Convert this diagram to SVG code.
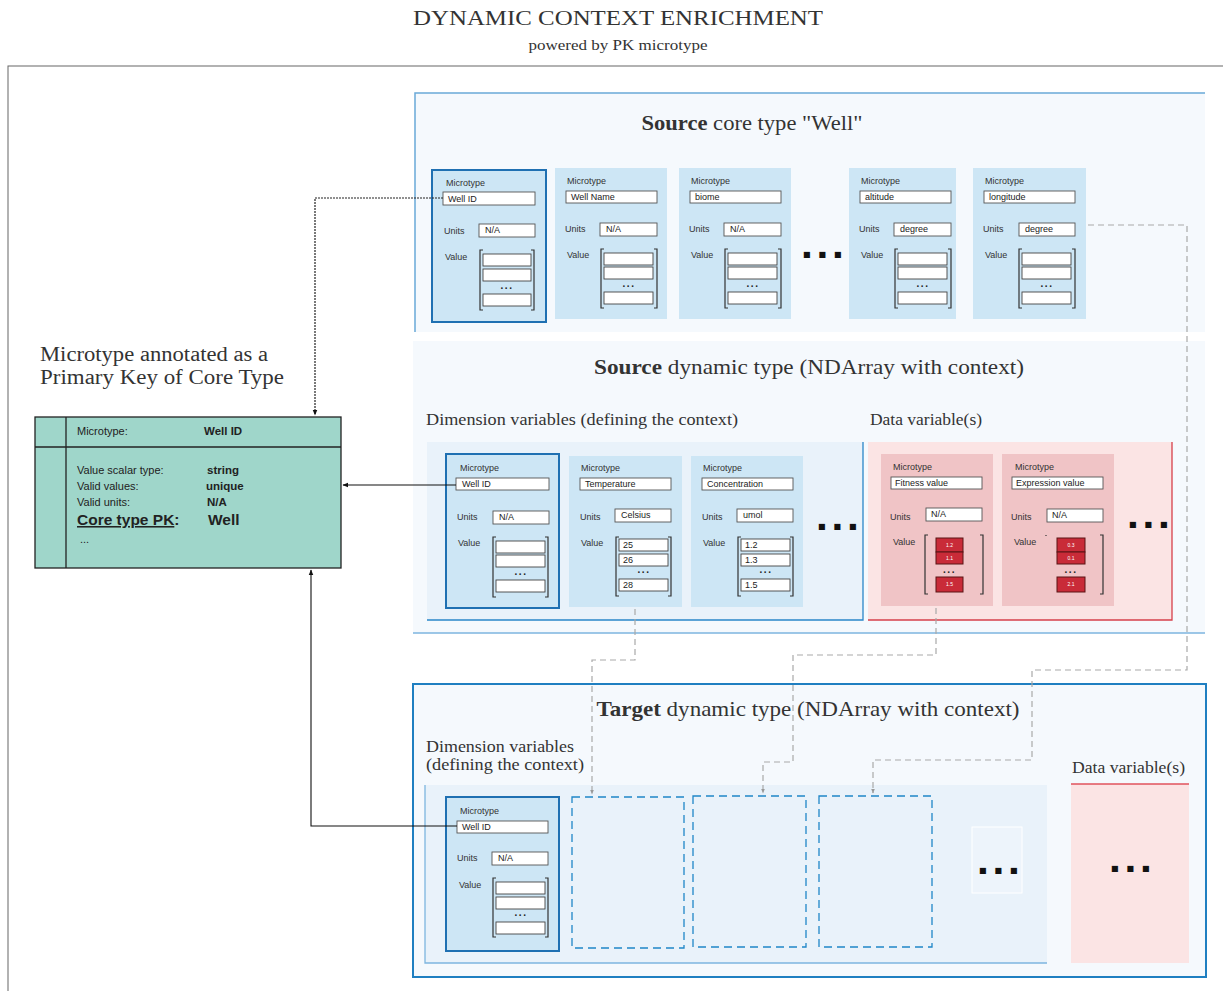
<svg xmlns="http://www.w3.org/2000/svg" width="1223" height="991" viewBox="0 0 1223 991">
<defs>
<style>
.serif{font-family:"Liberation Serif","DejaVu Serif",serif;fill:#333}
.sans{font-family:"Liberation Sans",Arial,sans-serif;fill:#222}
.lbl{font-family:"Liberation Sans",Arial,sans-serif;font-size:9px;fill:#333}
.val{font-family:"Liberation Sans",Arial,sans-serif;font-size:9px;fill:#222}
.card{fill:#cde6f5}
.hl{stroke:#1f70b2;stroke-width:2}
.rcard{fill:#f0c4c6}
.box{fill:#fff;stroke:#555;stroke-width:0.9}
.cell{fill:#fff;stroke:#444;stroke-width:0.9}
.rcell{fill:#c92b38;stroke:#5a1515;stroke-width:1}
.brk{fill:none;stroke:#333;stroke-width:1.2}
.dots{font-family:"DejaVu Sans",sans-serif;font-size:8px;fill:#111;letter-spacing:8px}
.sdots{font-family:"Liberation Sans",Arial,sans-serif;font-size:10px;font-weight:bold;fill:#222;letter-spacing:1.5px}
.tiny{font-family:"Liberation Sans",Arial,sans-serif;font-size:5px;fill:#fff}
.dash{fill:none;stroke:#a9a9a9;stroke-width:1.2;stroke-dasharray:6 4}
.ddash{fill:none;stroke:#1f86c8;stroke-width:1.3;stroke-dasharray:8 5}
</style>
<marker id="ah" viewBox="0 0 10 10" refX="9" refY="5" markerWidth="6" markerHeight="6" orient="auto" markerUnits="userSpaceOnUse"><path d="M0,1 L10,5 L0,9 z" fill="#111"/></marker>
<marker id="ahg" viewBox="0 0 10 10" refX="9" refY="5" markerWidth="5" markerHeight="5" orient="auto" markerUnits="userSpaceOnUse"><path d="M0,1 L10,5 L0,9 z" fill="#999"/></marker>
</defs>
<rect width="1223" height="991" fill="#fff"/>

<g id="title">
<text class="serif" x="618" y="25" font-size="22" text-anchor="middle" textLength="410" lengthAdjust="spacingAndGlyphs">DYNAMIC CONTEXT ENRICHMENT</text>
<text class="serif" x="618" y="50" font-size="14" text-anchor="middle" textLength="179" lengthAdjust="spacingAndGlyphs">powered by PK microtype</text>
</g>

<rect id="frame" x="8" y="66" width="1230" height="940" fill="none" stroke="#666" stroke-width="1"/>

<!-- Source core type panel -->
<g id="source-core">
<rect x="415" y="93" width="790" height="239" fill="#f5f9fd"/>
<path d="M415,332 V93 H1205" fill="none" stroke="#6aa9d8" stroke-width="1.5"/>
<text class="serif" x="752" y="130" font-size="21" text-anchor="middle" textLength="221" lengthAdjust="spacingAndGlyphs"><tspan font-weight="bold">Source</tspan> core type "Well"</text>
</g>

<g id="core-wellid" transform="translate(432,170)">
<rect class="card hl" x="0" y="0" width="114" height="152"/>
<text class="lbl" x="14" y="16">Microtype</text>
<rect class="box" x="11" y="22" width="92" height="13"/><text class="val" x="16" y="32">Well ID</text>
<text class="lbl" x="12" y="64">Units</text>
<rect class="box" x="47" y="54" width="56" height="13"/><text class="val" x="53" y="63">N/A</text>
<text class="lbl" x="13" y="90">Value</text>
<path class="brk" d="M51,80 h-3 v60 h3 M99,80 h3 v60 h-3"/>
<rect class="cell" x="51" y="84" width="48" height="12"/><rect class="cell" x="51" y="99" width="48" height="12"/>
<text class="sdots" x="75" y="119" text-anchor="middle">...</text>
<rect class="cell" x="51" y="124" width="48" height="12"/>
</g>

<g id="core-wellname" transform="translate(555,168)">
<rect class="card" x="0" y="0" width="112" height="151"/>
<text class="lbl" x="12" y="16">Microtype</text>
<rect class="box" x="11" y="23" width="91" height="12"/><text class="val" x="16" y="32">Well Name</text>
<text class="lbl" x="10" y="64">Units</text>
<rect class="box" x="45" y="55" width="57" height="13"/><text class="val" x="51" y="64">N/A</text>
<text class="lbl" x="12" y="90">Value</text>
<path class="brk" d="M49,81 h-3 v59 h3 M99,81 h3 v59 h-3"/>
<rect class="cell" x="49" y="85" width="49" height="12"/><rect class="cell" x="49" y="99" width="49" height="12"/>
<text class="sdots" x="74" y="119" text-anchor="middle">...</text>
<rect class="cell" x="49" y="124" width="49" height="12"/>
</g>

<g id="core-biome" transform="translate(679,168)">
<rect class="card" x="0" y="0" width="112" height="151"/>
<text class="lbl" x="12" y="16">Microtype</text>
<rect class="box" x="11" y="23" width="91" height="12"/><text class="val" x="16" y="32">biome</text>
<text class="lbl" x="10" y="64">Units</text>
<rect class="box" x="45" y="55" width="57" height="13"/><text class="val" x="51" y="64">N/A</text>
<text class="lbl" x="12" y="90">Value</text>
<path class="brk" d="M49,81 h-3 v59 h3 M99,81 h3 v59 h-3"/>
<rect class="cell" x="49" y="85" width="49" height="12"/><rect class="cell" x="49" y="99" width="49" height="12"/>
<text class="sdots" x="74" y="119" text-anchor="middle">...</text>
<rect class="cell" x="49" y="124" width="49" height="12"/>
</g>

<text id="core-ellipsis" class="dots" x="803" y="257">■■■</text>

<g id="core-altitude" transform="translate(849,168)">
<rect class="card" x="0" y="0" width="107" height="151"/>
<text class="lbl" x="12" y="16">Microtype</text>
<rect class="box" x="11" y="23" width="91" height="12"/><text class="val" x="16" y="32">altitude</text>
<text class="lbl" x="10" y="64">Units</text>
<rect class="box" x="45" y="55" width="57" height="13"/><text class="val" x="51" y="64">degree</text>
<text class="lbl" x="12" y="90">Value</text>
<path class="brk" d="M49,81 h-3 v59 h3 M99,81 h3 v59 h-3"/>
<rect class="cell" x="49" y="85" width="49" height="12"/><rect class="cell" x="49" y="99" width="49" height="12"/>
<text class="sdots" x="74" y="119" text-anchor="middle">...</text>
<rect class="cell" x="49" y="124" width="49" height="12"/>
</g>

<g id="core-longitude" transform="translate(973,168)">
<rect class="card" x="0" y="0" width="113" height="151"/>
<text class="lbl" x="12" y="16">Microtype</text>
<rect class="box" x="11" y="23" width="91" height="12"/><text class="val" x="16" y="32">longitude</text>
<text class="lbl" x="10" y="64">Units</text>
<rect class="box" x="46" y="55" width="56" height="13"/><text class="val" x="52" y="64">degree</text>
<text class="lbl" x="12" y="90">Value</text>
<path class="brk" d="M49,81 h-3 v59 h3 M99,81 h3 v59 h-3"/>
<rect class="cell" x="49" y="85" width="49" height="12"/><rect class="cell" x="49" y="99" width="49" height="12"/>
<text class="sdots" x="74" y="119" text-anchor="middle">...</text>
<rect class="cell" x="49" y="124" width="49" height="12"/>
</g>

<!-- Source dynamic type panel -->
<g id="source-dynamic">
<rect x="413" y="341" width="792" height="292" fill="#f5f9fd"/>
<line x1="413" y1="633" x2="1205" y2="633" stroke="#7db5df" stroke-width="1.5"/>
<text class="serif" x="809" y="374" font-size="21" text-anchor="middle" textLength="430" lengthAdjust="spacingAndGlyphs"><tspan font-weight="bold">Source</tspan> dynamic type (NDArray with context)</text>
<text class="serif" x="426" y="425" font-size="16" textLength="312" lengthAdjust="spacingAndGlyphs">Dimension variables (defining the context)</text>
<text class="serif" x="870" y="425" font-size="16" textLength="112" lengthAdjust="spacingAndGlyphs">Data variable(s)</text>
<rect x="427" y="442" width="436" height="178" fill="#e9f2fa"/>
<path d="M863,442 V620 H427" fill="none" stroke="#2a86c9" stroke-width="1.3"/>
<rect x="868" y="442" width="304" height="178" fill="#fbe4e4"/>
<path d="M1172,442 V620 H868" fill="none" stroke="#d6404b" stroke-width="1.3"/>
</g>

<g id="dyn-wellid" transform="translate(446,454)">
<rect class="card hl" x="0" y="0" width="113" height="154"/>
<text class="lbl" x="14" y="17">Microtype</text>
<rect class="box" x="10" y="24" width="93" height="12"/><text class="val" x="16" y="33">Well ID</text>
<text class="lbl" x="11" y="66">Units</text>
<rect class="box" x="47" y="57" width="56" height="13"/><text class="val" x="53" y="66">N/A</text>
<text class="lbl" x="12" y="92">Value</text>
<path class="brk" d="M50,83 h-3 v60 h3 M99,83 h3 v60 h-3"/>
<rect class="cell" x="50" y="87" width="49" height="12"/><rect class="cell" x="50" y="101" width="49" height="12"/>
<text class="sdots" x="75" y="121" text-anchor="middle">...</text>
<rect class="cell" x="50" y="126" width="49" height="12"/>
</g>

<g id="dyn-temperature" transform="translate(569,456)">
<rect class="card" x="0" y="0" width="113" height="151"/>
<text class="lbl" x="12" y="15">Microtype</text>
<rect class="box" x="11" y="22" width="91" height="12"/><text class="val" x="16" y="31">Temperature</text>
<text class="lbl" x="11" y="64">Units</text>
<rect class="box" x="46" y="53" width="56" height="13"/><text class="val" x="52" y="62">Celsius</text>
<text class="lbl" x="12" y="90">Value</text>
<path class="brk" d="M50,81 h-3 v59 h3 M99,81 h3 v59 h-3"/>
<rect class="cell" x="50" y="83" width="49" height="12"/><text class="val" x="54" y="92">25</text>
<rect class="cell" x="50" y="98" width="49" height="12"/><text class="val" x="54" y="107">26</text>
<text class="sdots" x="75" y="117" text-anchor="middle">...</text>
<rect class="cell" x="50" y="123" width="49" height="12"/><text class="val" x="54" y="132">28</text>
</g>

<g id="dyn-concentration" transform="translate(691,456)">
<rect class="card" x="0" y="0" width="112" height="151"/>
<text class="lbl" x="12" y="15">Microtype</text>
<rect class="box" x="11" y="22" width="91" height="12"/><text class="val" x="16" y="31">Concentration</text>
<text class="lbl" x="11" y="64">Units</text>
<rect class="box" x="46" y="53" width="56" height="13"/><text class="val" x="52" y="62">umol</text>
<text class="lbl" x="12" y="90">Value</text>
<path class="brk" d="M50,81 h-3 v59 h3 M99,81 h3 v59 h-3"/>
<rect class="cell" x="50" y="83" width="49" height="12"/><text class="val" x="54" y="92">1.2</text>
<rect class="cell" x="50" y="98" width="49" height="12"/><text class="val" x="54" y="107">1.3</text>
<text class="sdots" x="75" y="117" text-anchor="middle">...</text>
<rect class="cell" x="50" y="123" width="49" height="12"/><text class="val" x="54" y="132">1.5</text>
</g>

<text id="dyn-dim-ellipsis" class="dots" x="818" y="529">■■■</text>

<g id="dyn-fitness" transform="translate(881,454)">
<rect class="rcard" x="0" y="0" width="112" height="152"/>
<text class="lbl" x="12" y="16">Microtype</text>
<rect class="box" x="10" y="23" width="91" height="12"/><text class="val" x="14" y="32">Fitness value</text>
<text class="lbl" x="9" y="66">Units</text>
<rect class="box" x="45" y="54" width="56" height="13"/><text class="val" x="50" y="63">N/A</text>
<text class="lbl" x="12" y="91">Value</text>
<path class="brk" d="M47,81 h-3 v59 h3 M99,81 h3 v59 h-3"/>
<rect class="rcell" x="55" y="84" width="27" height="14"/><text class="tiny" x="68.5" y="93" text-anchor="middle">1.2</text>
<rect class="rcell" x="55" y="98" width="27" height="12"/><text class="tiny" x="68.5" y="106" text-anchor="middle">1.1</text>
<text class="sdots" x="68.5" y="119" text-anchor="middle">...</text>
<rect class="rcell" x="55" y="123" width="27" height="15"/><text class="tiny" x="68.5" y="132" text-anchor="middle">1.5</text>
</g>

<g id="dyn-expression" transform="translate(1002,454)">
<rect class="rcard" x="0" y="0" width="112" height="152"/>
<text class="lbl" x="13" y="16">Microtype</text>
<rect class="box" x="10" y="23" width="91" height="12"/><text class="val" x="14" y="32">Expression value</text>
<text class="lbl" x="9" y="66">Units</text>
<rect class="box" x="45" y="55" width="56" height="13"/><text class="val" x="50" y="64">N/A</text>
<text class="lbl" x="12" y="91">Value</text>
<path class="brk" d="M44,81 v1 M98,81 h3 v59 h-3"/>
<rect class="rcell" x="55" y="84" width="28" height="14"/><text class="tiny" x="69" y="93" text-anchor="middle">0.3</text>
<rect class="rcell" x="55" y="98" width="28" height="12"/><text class="tiny" x="69" y="106" text-anchor="middle">0.1</text>
<text class="sdots" x="69" y="119" text-anchor="middle">...</text>
<rect class="rcell" x="55" y="123" width="28" height="15"/><text class="tiny" x="69" y="132" text-anchor="middle">2.1</text>
</g>

<text id="dyn-data-ellipsis" class="dots" x="1129" y="527">■■■</text>

<!-- Target dynamic type panel -->
<g id="target-dynamic">
<rect x="413" y="684" width="793" height="293" fill="#f5f9fd" stroke="#1f7fc1" stroke-width="2"/>
<text class="serif" x="808" y="716" font-size="21" text-anchor="middle" textLength="423" lengthAdjust="spacingAndGlyphs"><tspan font-weight="bold">Target</tspan> dynamic type (NDArray with context)</text>
<text class="serif" x="426" y="752" font-size="16" textLength="148" lengthAdjust="spacingAndGlyphs">Dimension variables</text>
<text class="serif" x="426" y="770" font-size="16" textLength="158" lengthAdjust="spacingAndGlyphs">(defining the context)</text>
<rect x="425" y="785" width="622" height="178" fill="#e9f2fa"/>
<path d="M425,785 V963 H1047" fill="none" stroke="#7db5df" stroke-width="1.3"/>
<text class="serif" x="1072" y="773" font-size="16" textLength="113" lengthAdjust="spacingAndGlyphs">Data variable(s)</text>
<rect x="1071" y="784" width="118" height="179" fill="#fbe4e4"/>
<line x1="1071" y1="784" x2="1189" y2="784" stroke="#e0525c" stroke-width="1.5"/>
<text class="dots" x="1111" y="871">■■■</text>
</g>

<g id="tgt-wellid" transform="translate(446,797)">
<rect class="card hl" x="0" y="0" width="113" height="154"/>
<text class="lbl" x="14" y="17">Microtype</text>
<rect class="box" x="11" y="24" width="91" height="12"/><text class="val" x="16" y="33">Well ID</text>
<text class="lbl" x="11" y="64">Units</text>
<rect class="box" x="46" y="55" width="56" height="13"/><text class="val" x="52" y="64">N/A</text>
<text class="lbl" x="13" y="91">Value</text>
<path class="brk" d="M50,81 h-3 v59 h3 M99,81 h3 v59 h-3"/>
<rect class="cell" x="50" y="85" width="49" height="12"/><rect class="cell" x="50" y="100" width="49" height="12"/>
<text class="sdots" x="75" y="119" text-anchor="middle">...</text>
<rect class="cell" x="50" y="125" width="49" height="12"/>
</g>

<rect id="tgt-slot1" class="ddash" x="572" y="797" width="112" height="151"/>
<rect id="tgt-slot2" class="ddash" x="693" y="796" width="113" height="151"/>
<rect id="tgt-slot3" class="ddash" x="819" y="796" width="113" height="151"/>
<g id="tgt-dim-ellipsis">
<rect x="972" y="827" width="50" height="66" fill="#edf4fb" stroke="#fff" stroke-width="1"/>
<text class="dots" x="979" y="873">■■■</text>
</g>

<!-- Left PK box -->
<g id="pk-label">
<text class="serif" x="40" y="361" font-size="20" fill="#444" textLength="228" lengthAdjust="spacingAndGlyphs">Microtype annotated as a</text>
<text class="serif" x="40" y="384" font-size="20" fill="#444" textLength="244" lengthAdjust="spacingAndGlyphs">Primary Key of Core Type</text>
</g>
<g id="pk-box">
<rect x="35" y="417" width="306" height="151" fill="#9fd6ca" stroke="#222" stroke-width="1.3"/>
<line x1="66" y1="417" x2="66" y2="568" stroke="#222" stroke-width="1.3"/>
<line x1="35" y1="447" x2="341" y2="447" stroke="#222" stroke-width="1.3"/>
<text class="sans" x="77" y="435" font-size="11">Microtype:</text>
<text class="sans" x="204" y="435" font-size="11.5" font-weight="bold">Well ID</text>
<text class="sans" x="77" y="474" font-size="11">Value scalar type:</text>
<text class="sans" x="207" y="474" font-size="11.5" font-weight="bold">string</text>
<text class="sans" x="77" y="490" font-size="11">Valid values:</text>
<text class="sans" x="206" y="490" font-size="11.5" font-weight="bold">unique</text>
<text class="sans" x="77" y="506" font-size="11">Valid units:</text>
<text class="sans" x="207" y="506" font-size="11.5" font-weight="bold">N/A</text>
<text class="sans" x="77" y="525" font-size="15.5" font-weight="bold"><tspan text-decoration="underline">Core type PK</tspan>:</text>
<text class="sans" x="208" y="525" font-size="15.5" font-weight="bold">Well</text>
<text class="sans" x="80" y="543" font-size="11">...</text>
</g>

<!-- connectors -->
<g id="connectors">
<path d="M443,198 H315 V415" fill="none" stroke="#222" stroke-width="1.2" stroke-dasharray="2 1" marker-end="url(#ah)"/>
<path d="M456,485 H343" fill="none" stroke="#111" stroke-width="1.1" marker-end="url(#ah)"/>
<path d="M457,826 H311 V570" fill="none" stroke="#111" stroke-width="1.1" marker-end="url(#ah)"/>
<path class="dash" d="M635,609 V660 H592 V794" marker-end="url(#ahg)"/>
<path class="dash" d="M936,608 V655 H793 V762 H763 V793" marker-end="url(#ahg)"/>
<path class="dash" d="M1088,225 H1187 V670 H1032 V760 H873 V793" marker-end="url(#ahg)"/>
</g>
</svg>
